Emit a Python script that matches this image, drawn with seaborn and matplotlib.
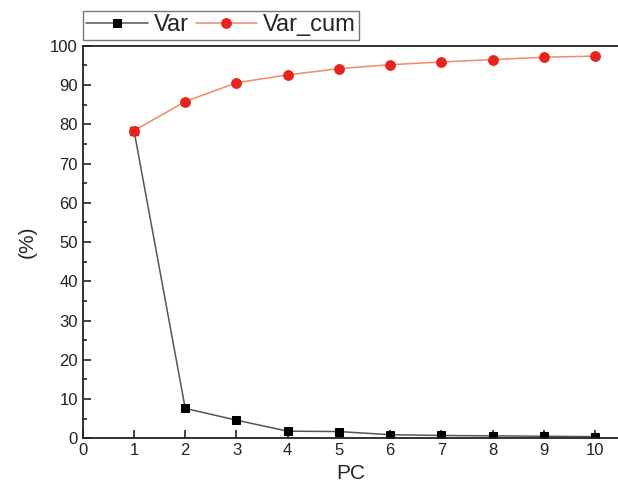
import numpy as np
import pandas as pd
import matplotlib
matplotlib.use("Agg")
import matplotlib.pyplot as plt
from matplotlib.ticker import MultipleLocator
import seaborn as sns

# --- DATA ---
pcs = [1, 2, 3, 4, 5, 6, 7, 8, 9, 10]
var = [78.4, 7.6, 4.6, 1.8, 1.7, 0.9, 0.7, 0.6, 0.5, 0.4]
var_cum = [78.4, 85.8, 90.6, 92.6, 94.2, 95.2, 95.9, 96.5, 97.1, 97.4]
x_ticks = list(range(0, 11))
y_ticks = list(range(0, 101, 10))

df = pd.DataFrame({"PC": pcs, "Var": var, "Var_cum": var_cum})

sns.set_style("ticks")
plt.rcParams["font.family"] = ["Liberation Sans", "DejaVu Sans"]

fig = plt.figure(figsize=(6.18, 4.88), dpi=100)
ax = fig.add_axes([0.134, 0.102, 0.866, 0.804])

sns.lineplot(data=df, x="PC", y="Var", ax=ax, color="#555555", lw=1.1,
             marker="s", markersize=6, markerfacecolor="black",
             markeredgecolor="black", label="Var")
sns.lineplot(data=df, x="PC", y="Var_cum", ax=ax, color="#f08a6a", lw=1.1,
             marker="o", markersize=7, markerfacecolor="#e8221e",
             markeredgecolor="#e8221e", label="Var_cum")
# first point shows as a red square in the original
ax.plot(pcs[0], var_cum[0], "s", ms=6, color="#e8221e", zorder=5)

ax.set_xlim(0, 10.45)
ax.set_ylim(0, 100)
ax.set_xticks(x_ticks)
ax.set_yticks(y_ticks)
ax.yaxis.set_minor_locator(MultipleLocator(5))
ax.tick_params(axis="both", which="both", direction="in", labelsize=12,
               width=1.2, colors="#222222")
ax.tick_params(which="major", length=6)
ax.tick_params(which="minor", length=3)
for side in ["left", "bottom", "top"]:
    ax.spines[side].set_linewidth(1.3)
    ax.spines[side].set_color("#222222")
ax.spines["right"].set_visible(False)

ax.set_xlabel("PC", fontsize=15, labelpad=4)
ax.set_ylabel("(%)", fontsize=15, labelpad=10)

leg = ax.legend(loc="lower left", bbox_to_anchor=(0.0, 1.015), ncol=2,
                fontsize=17, frameon=True, fancybox=False, edgecolor="#555555",
                handlelength=2.6, columnspacing=0.3, handletextpad=0.25,
                borderpad=0.15, borderaxespad=0.0)
leg.get_frame().set_linewidth(1.0)

fig.savefig("out.png", dpi=100)
